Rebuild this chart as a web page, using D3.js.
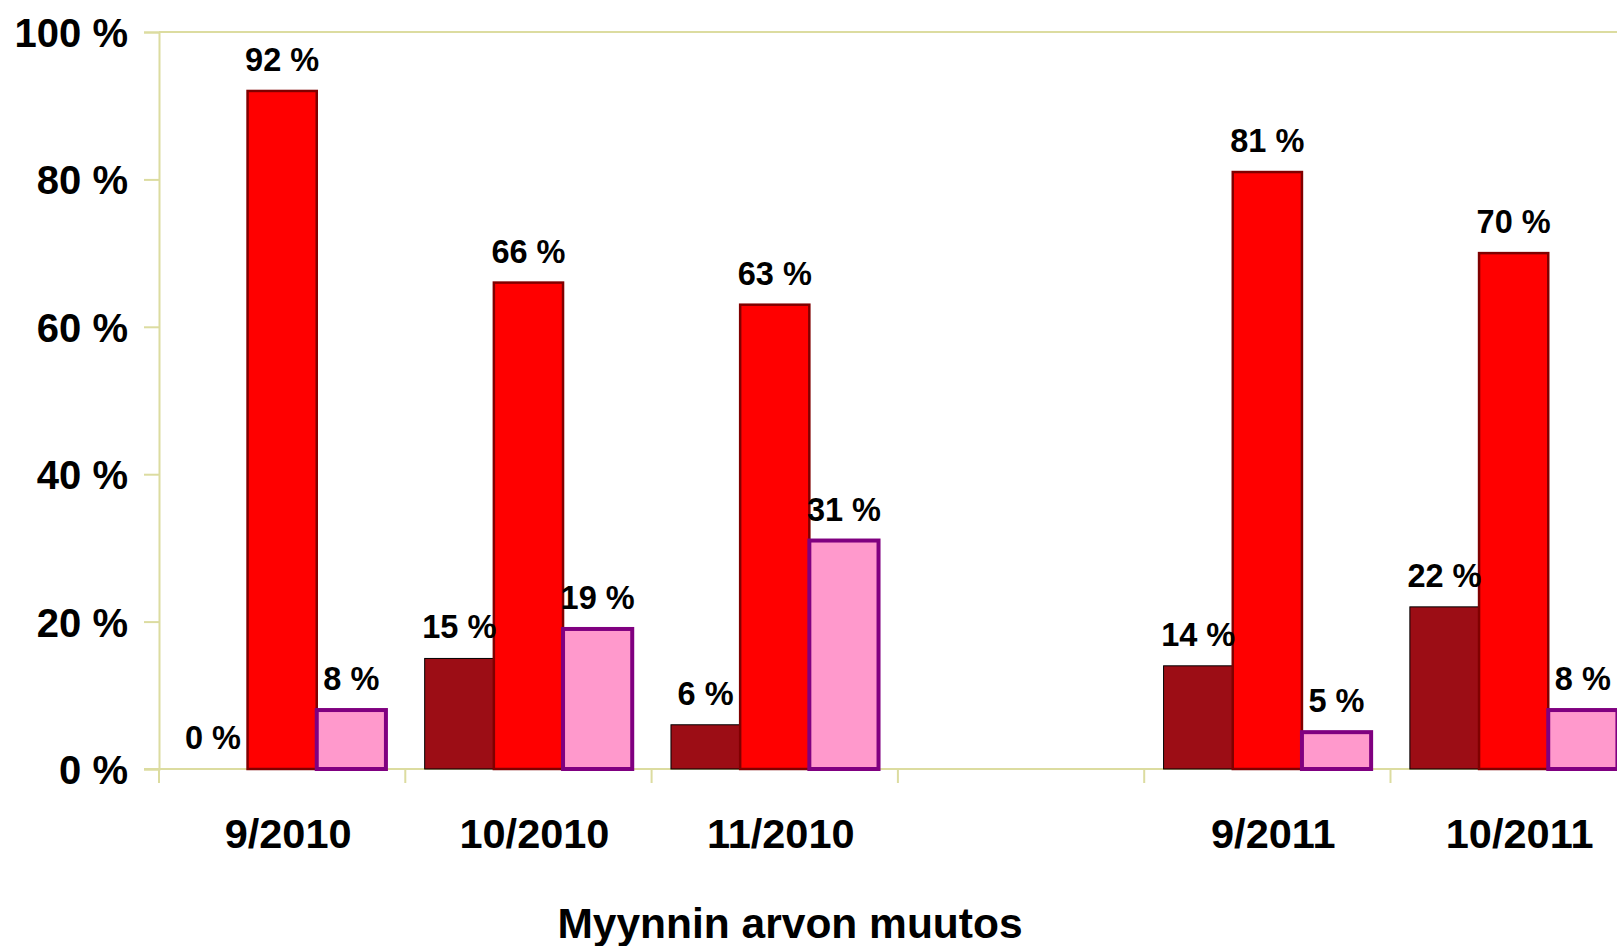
<!DOCTYPE html>
<html>
<head>
<meta charset="utf-8">
<script src="https://cdn.jsdelivr.net/npm/d3@7"></script>
<style>
  html, body { margin: 0; padding: 0; background: #fff; overflow: hidden; }
  svg { display: block; }
  text { font-family: "Liberation Sans", Arial, sans-serif; font-weight: bold; fill: #000; }
</style>
</head>
<body>
<svg id="chart" width="1617" height="946"></svg>
<script>
// ---- data ----
const categories = ["9/2010", "10/2010", "11/2010", "", "9/2011", "10/2011"];
const seriesNames = ["s1", "s2", "s3"];
const series1 = [0, 15, 6, null, 14, 22];   // dark red
const series2 = [92, 66, 63, null, 81, 70]; // red
const series3 = [8, 19, 31, null, 5, 8];    // pink
const yTicks = [0, 20, 40, 60, 80, 100];
const axisTitle = "Myynnin arvon muutos";

(function () {
// ---- styles ----
const fills = { s1: "#9C0D15", s2: "#FF0000", s3: "#FF99CC" };
const strokes = { s1: "#000000", s2: "#800000", s3: "#800080" };
const strokeW = { s1: 1, s2: 2.5, s3: 4 };
const axisColor = "#DCDCA0";

const svg = d3.select("#chart");
const plotLeft = 159, plotTop = 32, plotBottom = 769;
const step = 246.3;

const x = d3.scaleBand().domain(categories.map((c, i) => i))
  .range([plotLeft, plotLeft + step * categories.length]).padding(0);
const xi = d3.scaleBand().domain(seriesNames).range([0, step])
  .paddingInner(0).paddingOuter(0.28);
const y = d3.scaleLinear().domain([0, 100]).range([plotBottom, plotTop]);

// axes
const yAxis = d3.axisLeft(y).tickValues(yTicks).tickSize(15).tickFormat(d => d + " %");
const gy = svg.append("g").attr("transform", `translate(${plotLeft},0)`).call(yAxis);
gy.select(".domain").attr("stroke", axisColor).attr("stroke-width", 2);
gy.selectAll(".tick line").attr("stroke", axisColor).attr("stroke-width", 2);
gy.selectAll(".tick text").attr("x", -31).attr("dy", "0.36em")
  .style("font-size", "40px").style("font-family", "'Liberation Sans', Arial, sans-serif")
  .style("font-weight", "bold").attr("fill", "#000");

const gx = svg.append("g").attr("transform", `translate(0,${plotBottom})`);
// ticks at category boundaries
const bounds = d3.range(categories.length + 1).map(i => plotLeft + i * step);
gx.selectAll("line.b").data(bounds).enter().append("line")
  .attr("x1", d => d).attr("x2", d => d).attr("y1", 0).attr("y2", 14)
  .attr("stroke", axisColor).attr("stroke-width", 2);
gx.append("line").attr("x1", plotLeft - 15).attr("x2", 1617).attr("y1", 0).attr("y2", 0)
  .attr("stroke", axisColor).attr("stroke-width", 2);
// top border of plot area
svg.append("line").attr("x1", plotLeft).attr("x2", 1617).attr("y1", plotTop).attr("y2", plotTop)
  .attr("stroke", axisColor).attr("stroke-width", 2);

// category labels
svg.append("g").selectAll("text").data(categories).enter().append("text")
  .attr("x", (d, i) => x(i) + x.bandwidth() / 2 + 6)
  .attr("y", 848)
  .attr("text-anchor", "middle")
  .style("font-size", "41.5px")
  .text(d => d);

// axis title
svg.append("text").attr("x", 790).attr("y", 938).attr("text-anchor", "middle")
  .style("font-size", "42.5px").text(axisTitle);

// bars
const seriesData = { s1: series1, s2: series2, s3: series3 };
const rows = [];
categories.forEach((c, i) => {
  seriesNames.forEach(s => {
    const v = seriesData[s][i];
    if (v !== null && v !== undefined) rows.push({ i, s, v });
  });
});

svg.append("g").selectAll("rect").data(rows.filter(d => d.v > 0)).enter().append("rect")
  .attr("x", d => x(d.i) + xi(d.s))
  .attr("y", d => y(d.v))
  .attr("width", xi.bandwidth())
  .attr("height", d => y(0) - y(d.v))
  .attr("fill", d => fills[d.s])
  .attr("stroke", d => strokes[d.s])
  .attr("stroke-width", d => strokeW[d.s]);

// value labels
svg.append("g").selectAll("text").data(rows).enter().append("text")
  .attr("x", d => x(d.i) + xi(d.s) + xi.bandwidth() / 2)
  .attr("y", d => y(d.v) - 20)
  .attr("text-anchor", "middle")
  .style("font-size", "32.5px")
  .text(d => d.v + " %");
})();
</script>
</body>
</html>
